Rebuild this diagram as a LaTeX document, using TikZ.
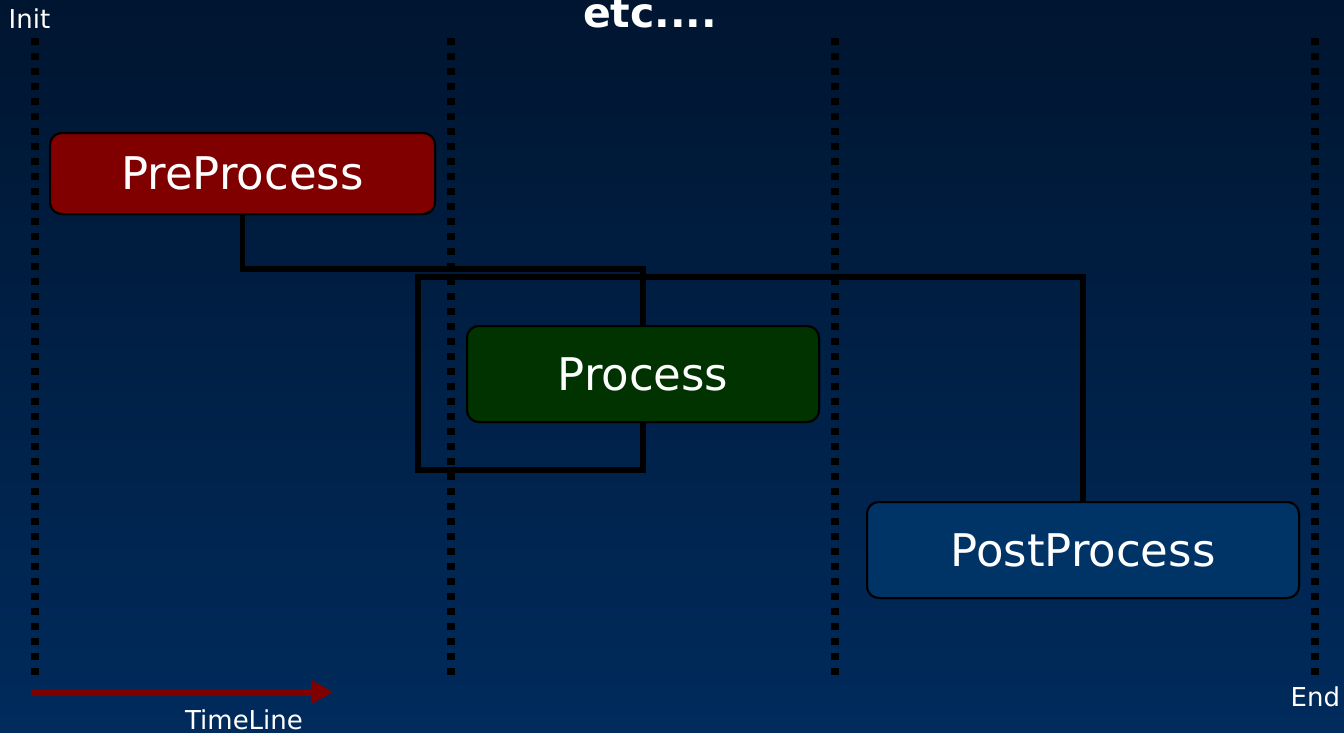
\documentclass[tikz,border=0pt]{standalone}
\usepackage{fontspec}
\setmainfont{DejaVu Sans}
\usetikzlibrary{arrows.meta}
\definecolor{bgtop}{HTML}{001530}
\definecolor{bgbot}{HTML}{002B5C}
\definecolor{prered}{HTML}{800000}
\definecolor{procgreen}{HTML}{003300}
\definecolor{postblue}{HTML}{003366}
\begin{document}
\begin{tikzpicture}[x=1pt,y=-1pt,
  stagebox/.style={draw=black, line width=2pt, rounded corners=12pt, text=white,
    font=\fontsize{45}{54}\selectfont, inner sep=0pt},
  sepline/.style={black, line width=7.5pt, dash pattern=on 7pt off 8pt},
  conn/.style={black, line width=5.5pt, line join=miter},
  lbl/.style={text=white, font=\fontsize{26}{30}\selectfont, inner sep=0pt}]
\useasboundingbox (0,0) rectangle (1344,732);
\shade[top color=bgtop, bottom color=bgbot] (0,0) rectangle (1344,732);
% separators
\foreach \x/\n in {35/a,451/b,835/c,1315/d}{
  \coordinate (s\n top) at (\x,38);
  \coordinate (s\n bot) at (\x,680);
  \draw[sepline] (s\n top) -- (s\n bot);
}
% connectors coordinates
\coordinate (j1) at (643,269);
\coordinate (k1) at (418,470);
\coordinate (k2) at (418,277);
% nodes
\node[stagebox, fill=prered, minimum width=385pt, minimum height=81pt] (pre) at (242.5,173.5) {PreProcess};
\node[stagebox, fill=procgreen, minimum width=352pt, minimum height=96pt] (proc) at (643,374) {Process};
\node[stagebox, fill=postblue, minimum width=432pt, minimum height=96pt] (post) at (1083,550) {PostProcess};
% connectors (behind boxes)
\begin{scope}[on background layer/.try]
\end{scope}
\draw[conn] (pre.south) |- (j1) -- (proc.north);
\draw[conn] (proc.south) |- (k1) -- (k2) -| (post.north);
% redraw boxes on top
\node[stagebox, fill=prered, minimum width=385pt, minimum height=81pt] at (pre) {PreProcess};
\node[stagebox, fill=procgreen, minimum width=352pt, minimum height=96pt] at (proc) {Process};
\node[stagebox, fill=postblue, minimum width=432pt, minimum height=96pt] at (post) {PostProcess};
% timeline
\coordinate (t0) at (31,692);
\coordinate (t1) at (333,692);
\draw[prered, line width=7pt, -{Triangle[length=22pt,width=23pt]}] (t0) -- (t1);
% labels
\node[lbl, anchor=base west] (init) at (8.5,28) {Init};
\node[lbl, anchor=base west] (endl) at (1290.5,706) {End};
\node[lbl, anchor=base] (tl) at (244,729) {TimeLine};
\node[text=white, font=\fontsize{41}{48}\selectfont\bfseries, inner sep=0pt, anchor=base] (etc) at (650,27) {etc....};
\end{tikzpicture}
\end{document}
